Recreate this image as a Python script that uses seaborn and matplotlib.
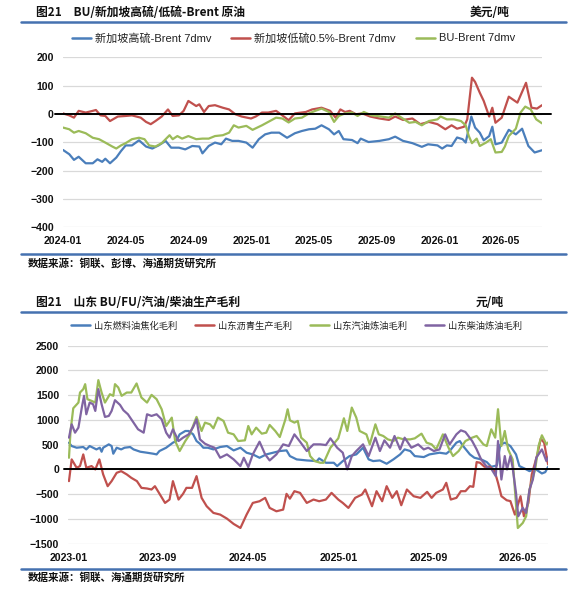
import numpy as np
import pandas as pd
import matplotlib
matplotlib.use("Agg")
import matplotlib.pyplot as plt
import matplotlib.dates as mdates
from matplotlib.lines import Line2D
import seaborn as sns

# ---- 图1: 价差 (美元/吨), 时间轴 = 2024-01 起的月数 ----
hsfo_t = [0, 0.4, 0.7, 1.0, 1.45, 1.9, 2.2, 2.5, 2.7, 3.0, 3.4, 3.7, 4.0, 4.4, 4.85, 5.3, 5.7, 6.1, 6.55, 6.9,
          7.4, 7.8, 8.25, 8.7, 8.9, 9.3, 9.7, 10.1, 10.4, 10.8, 11.2, 11.7, 12.1, 12.5, 12.9, 13.3, 13.8, 14.3,
          14.8, 15.25, 15.7, 16.1, 16.5, 16.97, 17.3, 17.6, 17.9, 18.45, 18.8, 19.0, 19.5, 20.2, 20.8, 21.2, 21.7,
          22.3, 22.9, 23.3, 23.9, 24.2, 24.5, 24.8, 25.15, 25.5, 25.7, 26.06, 26.3, 26.6, 26.85, 27.2, 27.4, 27.6,
          28.0, 28.45, 28.9, 29.3, 29.7, 30.1, 30.57]
hsfo_v = [-127, -142, -162, -151, -174, -174, -160, -169, -158, -174, -154, -131, -111, -111, -93, -115, -122, -111,
          -95, -119, -119, -125, -113, -115, -139, -113, -101, -107, -87, -95, -95, -101, -119, -89, -72, -66, -66,
          -84, -68, -60, -54, -52, -40, -54, -72, -60, -89, -92, -103, -87, -99, -95, -89, -80, -95, -103, -116,
          -107, -111, -122, -111, -113, -83, -89, -101, -9, -48, -66, -93, -78, -45, -107, -101, -56, -72, -52,
          -113, -136, -128]

lsfo_t = [0, 0.4, 0.7, 1.0, 1.45, 1.9, 2.1, 2.4, 2.7, 3.0, 3.5, 4.0, 4.4, 4.96, 5.3, 5.6, 5.9, 6.3, 6.7, 7.0,
          7.4, 7.7, 8.0, 8.5, 8.7, 9.0, 9.3, 9.7, 10.2, 10.6, 11.0, 11.4, 12.0, 12.3, 12.7, 13.1, 13.6, 14.0, 14.4,
          14.8, 15.5, 15.9, 16.5, 17.05, 17.4, 17.7, 18.0, 18.3, 18.7, 19.1, 19.6, 20.2, 20.8, 21.2, 21.7, 22.3,
          22.8, 23.35, 23.9, 24.4, 24.8, 25.15, 25.6, 25.8, 26.1, 26.3, 26.6, 26.85, 27.2, 27.4, 27.6, 28.0, 28.45,
          29.0, 29.3, 29.55, 29.9, 30.25, 30.57]
lsfo_v = [2, -5, -13, 11, 5, 11, 14, -5, -7, -25, -9, -7, -5, -13, -28, -36, -25, -9, 16, -7,
          -5, 11, 46, 28, 34, 7, 28, 31, 22, 16, -1, -9, -16, -9, 5, 5, 11, -5, -22,
          2, 7, 16, 22, 11, -13, 16, 7, 11, -1, 2, -9, -16, -21, -9, -21, -16, -36, -28, -36,
          -54, -40, -52, -45, -19, 128, 113, 75, 46, -9, 22, -31, -13, 61, 40, 78, 110, 22, 19, 31]

bu_t = [0, 0.4, 0.7, 1.0, 1.45, 1.9, 2.3, 2.7, 3.15, 3.4, 3.7, 4.0, 4.4, 4.85, 5.2, 5.5, 5.9, 6.3, 6.8, 7.0,
        7.3, 7.6, 8.0, 8.5, 8.9, 9.3, 9.7, 10.2, 10.6, 10.9, 11.2, 11.7, 12.1, 12.4, 12.7, 13.1, 13.6, 14.0, 14.4,
        14.8, 15.25, 15.7, 16.1, 16.5, 16.97, 17.3, 17.6, 18.0, 18.45, 18.8, 19.2, 19.7, 20.3, 20.8, 21.2, 21.6,
        22.1, 22.5, 22.9, 23.35, 23.9, 24.1, 24.5, 24.95, 25.4, 25.7, 25.9, 26.1, 26.4, 26.6, 27.0, 27.3, 27.6,
        28.0, 28.2, 28.45, 28.9, 29.2, 29.5, 29.85, 30.2, 30.57]
bu_v = [-48, -54, -66, -60, -68, -84, -89, -101, -115, -122, -111, -103, -89, -84, -89, -111, -115, -103, -75, -89,
        -78, -87, -78, -89, -87, -87, -78, -75, -66, -40, -48, -42, -56, -48, -40, -28, -13, -16, -30,
        -16, -13, 2, 11, 19, 7, -28, -7, 2, 5, -7, 7, -5, -9, -13, 2, -13, -31, -28, -40,
        -25, -19, -9, -19, -19, -25, -40, -78, -103, -87, -113, -101, -89, -136, -134, -115, -78, -52, 5, 26,
        16, -19, -33]

top_names = ["新加坡高硫-Brent 7dmv", "新加坡低硫0.5%-Brent 7dmv", "BU-Brent 7dmv"]
top_ticks = ["2024-01", "2024-05", "2024-09", "2025-01", "2025-05", "2025-09", "2026-01", "2026-05"]

# ---- 图2: 山东生产毛利 (元/吨), 时间轴 = 2023-01 起的月数 ----
fo_t = [0.06, 0.3, 0.74, 1.33, 1.6, 1.9, 2.5, 2.8, 2.96, 3.1, 3.6, 3.85, 4.0, 4.3, 4.7, 5.0, 5.5, 5.8, 6.4, 7.0,
        7.55, 7.85, 8.1, 8.7, 9.3, 9.6, 9.9, 10.4, 10.7, 11.1, 11.4, 11.7, 12.0, 12.4, 12.9, 13.5, 14.1, 14.7, 15.3,
        15.85, 16.4, 17.0, 17.6, 18.2, 18.8, 19.4, 19.7, 20.3, 21.2, 22.1, 22.3, 22.9, 23.6, 23.9, 24.4, 25.0, 25.6,
        26.2, 26.7, 27.1, 27.7, 28.3, 28.9, 29.5, 29.9, 30.4, 30.8, 31.6, 32.1, 33.0, 33.6, 33.9, 34.5, 34.8, 35.1,
        35.7, 36.1, 36.7, 37.2, 37.6, 38.1, 38.4, 38.8, 39.3, 39.8, 40.1, 40.6, 41.0, 41.5, 42.1, 42.4, 42.65]
fo_v = [540, 473, 439, 453, 405, 473, 405, 439, 358, 439, 507, 473, 318, 439, 405, 439, 453, 405, 358, 338,
        318, 304, 372, 439, 541, 574, 709, 777, 777, 709, 574, 520, 439, 439, 405, 453, 473, 385, 439, 338,
        304, 236, 304, 338, 372, 385, 270, 203, 182, 169, 223, 135, 135, 68, 169, 270, 304, 439, 203, 169,
        182, 115, 203, 304, 405, 372, 270, 250, 304, 338, 318, 372, 541, 574, 473, 304, 236, 203, 149, 54,
        80, 500, 540, 473, 304, 68, 14, -34, 14, -81, -54, 54]

asph_t = [0.06, 0.3, 0.74, 1.04, 1.33, 1.6, 2.07, 2.4, 2.76, 3.1, 3.5, 3.85, 4.3, 4.7, 5.2, 5.6, 6.1, 6.5, 7.0, 7.4,
          7.7, 8.15, 8.6, 9.0, 9.3, 9.8, 10.2, 10.5, 11.0, 11.4, 11.85, 12.3, 12.9, 13.5, 14.1, 14.7, 15.3, 15.85,
          16.4, 17.0, 17.5, 17.9, 18.5, 19.1, 19.4, 19.7, 20.1, 20.6, 21.2, 21.8, 22.3, 22.9, 23.4, 24.0, 24.4, 24.9,
          25.5, 26.1, 26.4, 27.0, 27.4, 27.9, 28.3, 28.8, 29.2, 29.6, 30.1, 30.7, 31.3, 31.9, 32.3, 32.7, 33.3, 33.6,
          34.0, 34.5, 34.9, 35.3, 35.7, 36.0, 36.3, 36.6, 37.0, 37.5, 37.9, 38.2, 38.5, 38.97, 39.3, 39.7,
          40.2, 40.5, 40.9, 41.2, 41.7, 42.0, 42.3, 42.65]
asph_v = [-236, 203, 34, 68, 304, 34, 68, 0, 203, -101, -338, -236, -68, -34, -101, -169, -236, -372, -385, -405,
          -338, -507, -676, -608, -236, -608, -493, -372, -372, -135, -574, -743, -878, -912, -993, -1101, -1182, -912,
          -676, -642, -574, -777, -845, -811, -493, -590, -439, -473, -676, -608, -642, -608, -473, -608, -676, -777,
          -574, -507, -405, -743, -439, -642, -338, -574, -439, -723, -405, -541, -574, -453, -574, -473, -405, -270,
          -608, -574, -439, -439, -338, -351, 149, 135, 54, 54, -34, -270, -540, -622, -640, -912,
          -540, -946, -676, -101, 304, 622, 540, 101]

gas_t = [0.06, 0.2, 0.44, 0.9, 1.04, 1.33, 1.5, 1.7, 2.07, 2.4, 2.67, 2.96, 3.26, 3.7, 4.0, 4.15, 4.44, 4.74, 5.2, 5.6,
         6.07, 6.5, 7.0, 7.4, 7.85, 8.3, 8.7, 9.2, 9.5, 9.9, 10.4, 10.8, 11.4, 11.85, 12.15, 12.6, 12.9, 13.3, 13.8, 14.2,
         14.7, 15.1, 15.7, 16.0, 16.3, 16.7, 17.2, 17.6, 17.9, 18.4, 18.8, 19.3, 19.5, 19.7, 20.1, 20.4, 20.7, 21.2,
         21.5, 21.9, 22.4, 22.7, 23.3, 24.0, 24.5, 24.8, 25.2, 25.6, 25.9, 26.5, 26.8, 27.3, 27.6, 28.0, 28.4, 28.9,
         29.3, 29.8, 30.4, 30.8, 31.4, 31.85, 32.3, 32.7, 33.3, 33.8, 34.2, 34.7, 35.3, 35.9, 36.3, 36.9, 37.2, 37.6,
         37.95, 38.2, 38.5, 38.8, 39.1, 39.5, 39.7, 39.96, 40.4, 40.7, 41.0, 41.5, 41.8, 42.1, 42.5, 42.7]
gas_v = [236, 777, 1236, 1351, 1554, 1622, 1723, 1419, 1385, 1351, 1804, 1554, 1351, 1520, 1487, 1723, 1656, 1487, 1554, 1554,
         1737, 1453, 1351, 1507, 1419, 1216, 878, 1047, 574, 372, 574, 709, 1061, 777, 946, 912, 831, 1047, 980, 743,
         709, 574, 588, 878, 709, 845, 723, 743, 899, 777, 655, 1013, 1216, 993, 946, 980, 642, 541,
         270, 169, 135, 135, 439, 628, 1034, 777, 1250, 1047, 777, 709, 507, 912, 709, 676, 608, 574,
         642, 608, 608, 628, 723, 541, 507, 405, 709, 439, 270, 372, 574, 642, 676, 507, 473, 811,
         642, 1217, 473, 777, 405, 203, -405, -1183, -1081, -946, -405, 0, 473, 690, 507, 554]

dsl_t = [0.06, 0.3, 0.6, 0.9, 1.2, 1.4, 1.6, 1.9, 2.2, 2.4, 2.67, 2.96, 3.26, 3.6, 3.85, 4.15, 4.6, 4.9, 5.3, 5.8,
         6.2, 6.7, 7.0, 7.4, 7.85, 8.3, 8.7, 9.0, 9.3, 9.8, 10.2, 10.7, 11.1, 11.4, 11.7, 12.15, 12.6, 13.0, 13.5, 14.1,
         14.7, 15.3, 15.6, 16.0, 16.4, 17.0, 17.5, 17.9, 18.5, 19.1, 19.6, 20.1, 20.6, 21.2, 21.8, 22.4, 22.9, 23.3,
         23.9, 24.4, 24.8, 25.2, 25.6, 26.2, 26.7, 27.3, 27.7, 28.1, 28.6, 29.0, 29.5, 29.9, 30.5, 31.1, 31.6, 32.0,
         32.5, 33.0, 33.5, 33.9, 34.5, 34.9, 35.3, 35.9, 36.3, 36.7, 37.2, 37.6, 38.0, 38.2, 38.5, 38.8, 39.0, 39.3,
         39.5, 39.8, 40.0, 40.4, 40.7, 41.0, 41.3, 41.6, 42.1, 42.5, 42.7]
dsl_v = [642, 912, 743, 845, 1250, 1487, 1115, 1351, 1318, 1182, 1622, 1318, 1061, 1081, 1182, 1399, 1304, 1196, 1115, 946,
         811, 743, 1115, 1081, 1115, 1013, 743, 642, 811, 574, 642, 709, 858, 1013, 608, 520, 473, 439, 236, 304,
         203, 68, 236, 47, 304, 561, 304, 182, 304, 507, 473, 709, 561, 372, 507, 507, 493, 628,
         439, 338, 0, 270, 372, 507, 270, 642, 372, 588, 439, 676, 405, 642, 439, 507, 405, 439,
         372, 405, 709, 507, 709, 790, 757, 575, 405, 203, 54, 14, -135, 575, -203, 270, 0, 270,
         34, -473, -946, -777, -878, -405, -203, 236, 405, 169, 257]

bot_names = ["山东燃料油焦化毛利", "山东沥青生产毛利", "山东汽油炼油毛利", "山东柴油炼油毛利"]
bot_ticks = ["2023-01", "2023-09", "2024-05", "2025-01", "2025-09", "2026-05"]

BLUE, RED, GREEN, PURPLE = "#4a7ebb", "#c0504d", "#9bbb59", "#8064a2"
RULE = "#4571b0"

sns.set_style("white")
LATIN_CJK = ["Liberation Sans", "Noto Sans CJK SC"]
CJK = ["Noto Sans CJK SC", "DejaVu Sans"]
plt.rcParams["font.family"] = LATIN_CJK

W, H = 583, 616


def to_dates(start, t):
    return pd.Timestamp(start) + pd.to_timedelta(np.asarray(t) * 30.4375, unit="D")


def px_axes(left, top, right, bottom):
    return fig.add_axes([left / W, 1 - bottom / H, (right - left) / W, (bottom - top) / H])


def draw(ax, start, series, colors):
    for (t, v, name), c in zip(series, colors):
        df = pd.DataFrame({"date": to_dates(start, t), "val": v})
        sns.lineplot(data=df, x="date", y="val", ax=ax, color=c, lw=1.6, label=name, sort=False)
    ax.get_legend().remove()


def style(ax, start, t_end, ylim, ystep, ticks, zx):
    ax.set_xlim(pd.Timestamp(start), to_dates(start, [t_end])[0])
    ax.set_ylim(*ylim)
    ax.set_yticks(np.arange(ylim[0], ylim[1] + 1, ystep))
    ax.set_xticks([pd.Timestamp(s + "-01") for s in ticks])
    ax.xaxis.set_major_formatter(mdates.DateFormatter("%Y-%m"))
    ax.set_xlabel("")
    ax.set_ylabel("")
    ax.yaxis.grid(True, color="#d9d9d9", lw=0.9)
    ax.xaxis.grid(False)
    ax.set_axisbelow(True)
    for s in ax.spines.values():
        s.set_visible(False)
    ax.axhline(0, xmin=zx[0], xmax=zx[1], color="black", lw=1.4, clip_on=False, zorder=5)
    ax.tick_params(length=0, labelsize=7.6, pad=6.5, colors="#111111")
    for lbl in ax.get_xticklabels() + ax.get_yticklabels():
        lbl.set_fontweight("bold")
        lbl.set_family("Liberation Sans")


def header(y_title, y_rule, title, unit, unit_x, y_bottom, y_src, src):
    fig.text(36 / W, 1 - y_title / H, title, fontsize=8.5, fontweight="bold", family=CJK,
             va="center", ha="left", color="#111111")
    fig.text(unit_x / W, 1 - y_title / H, unit, fontsize=8.5, fontweight="bold", family=CJK,
             va="center", ha="left", color="#111111")
    for y in (y_rule, y_bottom):
        fig.add_artist(Line2D([21 / W, 566 / W], [1 - y / H] * 2, color=RULE, lw=1.8))
    fig.text(28 / W, 1 - y_src / H, src, fontsize=7.6, fontweight="bold", family=CJK,
             va="center", ha="left", color="#111111")


fig = plt.figure(figsize=(W / 100, H / 100), dpi=100)

# 上图
ax1 = px_axes(63, 57.3, 542, 227.3)
draw(ax1, "2024-01-01",
     [(hsfo_t, hsfo_v, top_names[0]), (lsfo_t, lsfo_v, top_names[1]), (bu_t, bu_v, top_names[2])],
     [BLUE, RED, GREEN])
style(ax1, "2024-01-01", 30.57, (-400, 200), 100, top_ticks, (-0.017, 1.019))
h1 = [Line2D([], [], color=c, lw=1.8) for c in (BLUE, RED, GREEN)]
fig.legend(h1, top_names, loc="center", bbox_to_anchor=(293.5 / W, 1 - 38 / H), ncol=3, frameon=False,
           prop={"family": LATIN_CJK, "size": 8}, handlelength=1.7, handletextpad=0.35, columnspacing=1.8,
           labelcolor="#222222")
header(12, 21.5, "图21\u3000BU/新加坡高硫/低硫-Brent 原油", "美元/吨", 470, 254.3, 263.3,
       "数据来源：铜联、彭博、海通期货研究所")

# 下图
ax2 = px_axes(68.3, 345.7, 548.3, 543.7)
draw(ax2, "2023-01-01",
     [(fo_t, fo_v, bot_names[0]), (asph_t, asph_v, bot_names[1]),
      (gas_t, gas_v, bot_names[2]), (dsl_t, dsl_v, bot_names[3])],
     [BLUE, RED, GREEN, PURPLE])
style(ax2, "2023-01-01", 42.67, (-1500, 2500), 500, bot_ticks, (-0.01, 1.023))
h2 = [Line2D([], [], color=c, lw=1.8) for c in (BLUE, RED, GREEN, PURPLE)]
fig.legend(h2, bot_names, loc="center", bbox_to_anchor=(296.5 / W, 1 - 326 / H), ncol=4, frameon=False,
           prop={"family": CJK, "size": 6.7}, handlelength=2.0, handletextpad=0.4, columnspacing=2.0,
           labelcolor="#222222")
header(302.7, 311.7, "图21\u3000山东 BU/FU/汽油/柴油生产毛利", "元/吨", 476, 569, 577.3,
       "数据来源：铜联、海通期货研究所")

fig.savefig("out.png", dpi=100)
